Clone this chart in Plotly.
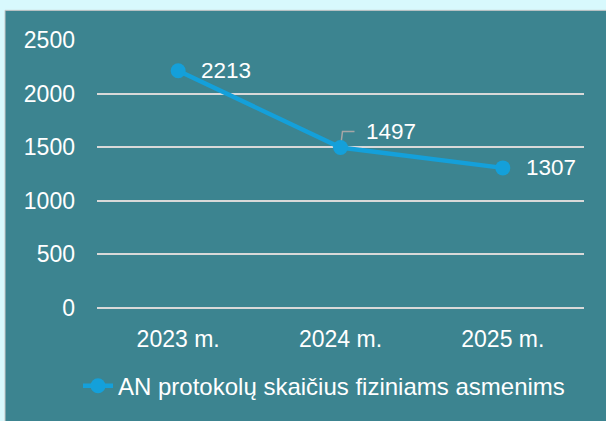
import plotly.graph_objects as go

categories = ["2023 m.", "2024 m.", "2025 m."]
values = [2213, 1497, 1307]
series_name = "AN protokolų skaičius fiziniams asmenims"
y_ticks = [0, 500, 1000, 1500, 2000, 2500]

W, H = 606, 421
L, R, T, B = 97, 22, 40, 110
pw, ph = W - L - R, H - T - B
FONT = "Liberation Sans, Arial, sans-serif"

def px_x(px):
    return (px - L) / pw

def px_y(py):
    return (H - B - py) / ph

fig = go.Figure()
fig.add_trace(go.Scatter(
    x=categories, y=values, name=series_name,
    mode="lines+markers",
    line=dict(color="#14a0da", width=4.5),
    marker=dict(size=15, color="#14a0da"),
    cliponaxis=False,
))

# background panel
fig.add_shape(type="rect", xref="paper", yref="paper", layer="below",
              x0=px_x(5), x1=px_x(640), y0=px_y(460), y1=px_y(10),
              fillcolor="#3c8490", line=dict(color="#c8c8c8", width=1))

offsets = [(21, 0), (23, 16), (21, 0)]
for c, v, (ox, oy) in zip(categories, values, offsets):
    fig.add_annotation(
        x=c, y=v, text=str(v), xanchor="left", yanchor="middle",
        showarrow=False, xshift=ox, yshift=oy,
        font=dict(color="white", size=22.5, family=FONT),
    )

# leader line for the 1497 label
fig.add_shape(type="path", layer="below",
              xref="x", yref="y", xsizemode="pixel", ysizemode="pixel",
              xanchor=categories[1], yanchor=values[1],
              path="M 0,0 L 2,16 L 14,16",
              line=dict(color="#a6a6a6", width=1.5))

fig.update_layout(
    width=W, height=H,
    margin=dict(l=L, r=R, t=T, b=B),
    paper_bgcolor="#d8f9fd",
    plot_bgcolor="rgba(0,0,0,0)",
    font=dict(family=FONT, color="white", size=23),
    showlegend=True,
    legend=dict(orientation="h", x=px_x(324), xanchor="center", y=px_y(390), yanchor="middle",
                font=dict(size=24, color="white", family=FONT), bgcolor="rgba(0,0,0,0)"),
    xaxis=dict(range=[-0.5, 2.5], showgrid=False, showline=False, zeroline=False,
               ticks="", tickfont=dict(size=23, color="white"), ticklabelstandoff=15),
    yaxis=dict(range=[0, 2500], tickvals=y_ticks, showgrid=True, gridcolor="#d9d9d9",
               gridwidth=2, zeroline=True, zerolinecolor="#d9d9d9", zerolinewidth=2,
               showline=False, ticks="",
               tickfont=dict(size=23, color="white"), ticklabelstandoff=21),
)
fig.write_html("out.html", config={"displayModeBar": False},
               post_script="document.body.style.margin='0';")
